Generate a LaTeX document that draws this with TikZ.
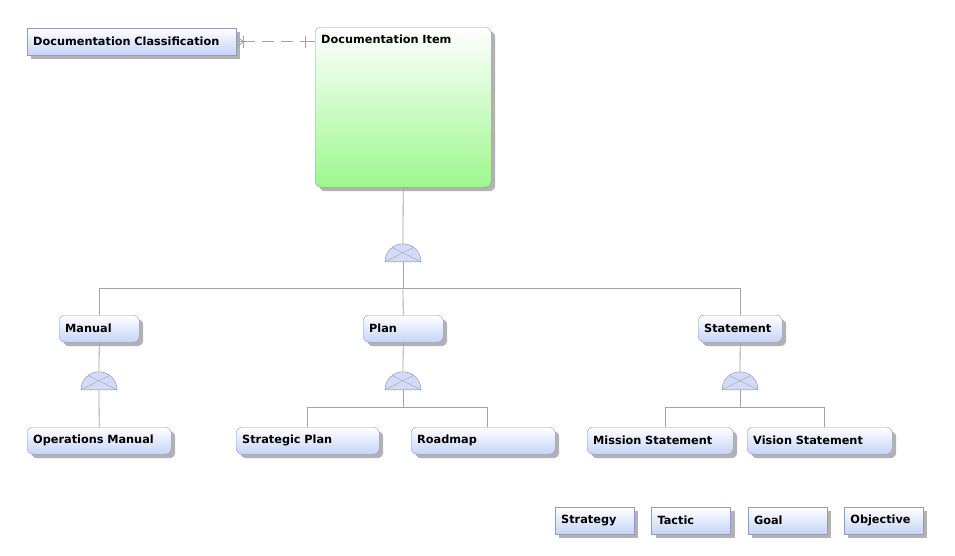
\documentclass[tikz,border=0pt]{standalone}
\usepackage{fontspec}
\setmainfont{DejaVu Sans}
\usetikzlibrary{shapes.geometric, shadows, positioning}

\definecolor{boxline}{HTML}{8E9CC4}
\definecolor{boxfill}{HTML}{C6D3F7}
\definecolor{itemfill}{HTML}{9CF88E}
\definecolor{wire}{HTML}{A4A4A4}

\begin{document}
\begin{tikzpicture}[x=1pt, y=1pt, font=\fontsize{11.3}{13}\selectfont\bfseries,
    box/.style={draw=boxline, top color=white, bottom color=boxfill,
      anchor=north west, minimum height=27pt, inner xsep=6pt, align=left,
      drop shadow={shadow xshift=4pt, shadow yshift=-4pt, fill=black!30, opacity=1}},
    rbox/.style={box, rounded corners=6pt},
    gate/.style={semicircle, draw=black!45, fill=boxfill!80, inner sep=0pt,
      minimum width=36pt, minimum height=18pt, anchor=chord center,
      path picture={\draw[black!35] (path picture bounding box.south west) -- (path picture bounding box.north east)
        (path picture bounding box.south east) -- (path picture bounding box.north west);}},
    link/.style={draw=wire, thick}]

    \useasboundingbox (0,0) rectangle (955,-555);

    \node (dc) [box, text width=197pt] at (27,-28) {Documentation Classification};
    \node (di) [rbox, text width=164pt, bottom color=itemfill, inner ysep=6pt,
      text height=10pt, text depth=138pt] at (315,-27) {Documentation Item};

    \node (manual) [rbox, text width=68pt] at (59,-315) {Manual};
    \node (plan) [rbox, text width=68pt] at (363,-315) {Plan};
    \node (stmt) [rbox, text width=72pt] at (698,-315) {Statement};

    \node (opman) [rbox, text width=132pt] at (27,-427) {Operations Manual};
    \node (splan) [rbox, text width=131pt] at (236,-427) {Strategic Plan};
    \node (road) [rbox, text width=132pt] at (411,-427) {Roadmap};
    \node (mission) [rbox, text width=134pt] at (587,-427) {Mission Statement};
    \node (vision) [rbox, text width=133pt] at (747,-427) {Vision Statement};

    \node (strategy) [box, text width=67pt] at (555,-507) {Strategy};
    \node (tactic) [box, text width=67pt, right = 17pt of strategy] {Tactic};
    \node (goal) [box, text width=67pt, right = 17pt of tactic] {Goal};
    \node (objective) [box, text width=67pt, right = 17pt of goal] {Objective};

    % relation between classification and item
    \draw [link] ([yshift=6pt]dc.east) -- ++(7,-6) -- ++(-7,-6);
    \draw [link] (dc.east) -- ++(7,0) coordinate (c1);
    \draw [link] ([yshift=6pt]c1) -- ++(0,-12);
    \draw [link, dash pattern=on 12pt off 7pt] (c1) -- ([xshift=-10pt]dc.east -| di.west) coordinate (c2);
    \draw [link] ([yshift=6pt]c2) -- ++(0,-12);
    \draw [link] (c2) -- (dc.east -| di.west);

    % top level
    \node (g0) [gate] at (403,-262) {};
    \coordinate (b0) at (403,-288);
    \draw [link] (di.south) -- (g0.apex);
    \draw [link] (g0.chord center) -- (b0);
    \draw [link] (b0) -| (manual.north);
    \draw [link] (b0) -- (plan.north);
    \draw [link] (b0) -| (stmt.north);

    % manual
    \node (g1) [gate] at (99,-390) {};
    \draw [link] (manual.south) -- (g1.apex);
    \draw [link] (g1.chord center) -- (opman.north);

    % plan
    \node (g2) [gate] at (403,-390) {};
    \coordinate (b2) at (403,-407);
    \draw [link] (plan.south) -- (g2.apex);
    \draw [link] (g2.chord center) -- (b2);
    \draw [link] (b2) -| (splan.north);
    \draw [link] (b2) -| ([xshift=4pt]road.north);

    % statement
    \node (g3) [gate] at (740,-390) {};
    \coordinate (b3) at (740,-407);
    \draw [link] (stmt.south) -- (g3.apex);
    \draw [link] (g3.chord center) -- (b3);
    \draw [link] (b3) -| ([xshift=5pt]mission.north);
    \draw [link] (b3) -| ([xshift=5pt]vision.north);

\end{tikzpicture}
\end{document}
